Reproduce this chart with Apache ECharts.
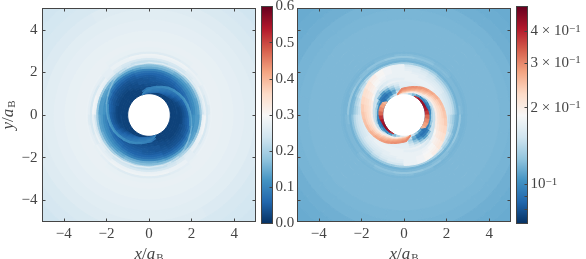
<!DOCTYPE html>
<html><head><meta charset="utf-8">
<style>html,body{margin:0;padding:0;background:#fff}#c{width:586px;height:259px;filter:blur(.45px)}</style>
<script src="https://cdn.jsdelivr.net/npm/echarts@6/dist/echarts.min.js"></script>
</head><body><div id="c"></div>
<script>
// Everything here. The field repeats every half turn.
// Base field: polar cells, columns 0-10deg ... 170-180deg.
const radiusEdges=[1,1.1,1.2,1.3,1.4,1.5,1.6,1.7,1.8,1.9,2,2.1,2.2,2.3,2.4,2.5,2.6,2.7,2.8,2.9,3,3.2,3.5,4,4.5,5,5.5,6,6.5,7.2];
const angleStep=10;
const leftRows=[
[.018,.018,.018,.018,.018,.018,.018,.018,.018,.018,.018,.018,.018,.018,.018,.018,.018,.018],
[.02,.02,.02,.02,.02,.02,.02,.02,.02,.02,.02,.02,.02,.02,.02,.02,.02,.02],
[.02,.02,.02,.02,.02,.02,.025,.025,.025,.025,.025,.02,.02,.02,.02,.02,.02,.02],
[.025,.025,.025,.025,.025,.025,.03,.03,.03,.03,.03,.025,.02,.02,.02,.02,.02,.02],
[.03,.03,.03,.03,.03,.03,.035,.035,.035,.035,.03,.03,.025,.02,.02,.02,.02,.025],
[.035,.035,.035,.035,.04,.04,.04,.04,.04,.04,.04,.03,.03,.025,.025,.025,.03,.03],
[.04,.04,.04,.04,.045,.045,.045,.045,.045,.04,.04,.035,.03,.03,.03,.03,.035,.04],
[.05,.05,.05,.05,.05,.05,.05,.05,.045,.045,.04,.04,.035,.035,.035,.04,.04,.045],
[.07,.07,.065,.06,.06,.055,.055,.055,.05,.05,.05,.045,.04,.04,.04,.045,.05,.055],
[.085,.08,.075,.07,.07,.065,.06,.06,.06,.06,.06,.05,.05,.05,.05,.055,.065,.08],
[.10,.10,.10,.095,.09,.085,.08,.075,.075,.075,.075,.065,.065,.065,.07,.085,.10,.11],
[.11,.11,.11,.11,.11,.105,.10,.10,.10,.10,.10,.09,.085,.085,.095,.11,.115,.12],
[.13,.13,.13,.13,.13,.14,.15,.15,.15,.15,.14,.13,.13,.13,.13,.13,.13,.13],
[.14,.14,.15,.15,.16,.16,.17,.17,.17,.17,.17,.17,.17,.16,.15,.14,.13,.13],
[.19,.19,.19,.20,.20,.21,.21,.21,.21,.21,.21,.21,.21,.21,.20,.19,.18,.18],
[.24,.24,.24,.24,.24,.24,.24,.23,.23,.23,.23,.24,.25,.26,.27,.28,.28,.28],
[.28,.28,.28,.27,.26,.25,.25,.25,.25,.25,.25,.25,.26,.27,.28,.28,.29,.29],
[.25,.25,.26,.27,.27,.28,.28,.28,.28,.28,.28,.28,.28,.27,.26,.25,.25,.25],
[.26,.27,.27,.28,.28,.285,.285,.285,.285,.285,.285,.28,.28,.27,.27,.27,.27,.27],
[.28,.28,.28,.275,.27,.265,.26,.26,.26,.26,.26,.265,.27,.275,.28,.28,.28,.28],
[.278,.278,.278,.278,.278,.275,.275,.275,.275,.275,.275,.275,.275,.278,.278,.278,.278,.278],
[.278,.278,.278,.278,.278,.278,.278,.278,.278,.278,.278,.278,.278,.278,.278,.278,.278,.278],
[.275,.275,.275,.275,.275,.275,.275,.275,.275,.275,.275,.275,.275,.275,.275,.275,.275,.275],
[.27,.27,.27,.27,.27,.27,.27,.27,.27,.27,.27,.27,.27,.27,.27,.27,.27,.27],
[.265,.265,.265,.265,.265,.265,.265,.265,.265,.265,.265,.265,.265,.265,.265,.265,.265,.265],
[.26,.26,.26,.26,.26,.26,.26,.26,.26,.26,.26,.26,.258,.258,.258,.258,.258,.258],
[.252,.252,.252,.252,.252,.252,.252,.252,.252,.252,.252,.25,.25,.25,.25,.25,.25,.25],
[.248,.248,.248,.248,.248,.248,.248,.248,.248,.248,.245,.245,.245,.245,.245,.245,.245,.245],
[.24,.24,.24,.24,.24,.24,.24,.24,.24,.24,.24,.24,.24,.24,.24,.24,.24,.24]
];
const rightRows=[
[.095,.095,.095,.095,.10,.10,.12,.14,.16,.17,.16,.15,.13,.115,.10,.10,.10,.10],
[.095,.09,.09,.095,.10,.11,.13,.15,.16,.16,.15,.115,.10,.095,.09,.095,.095,.10],
[.10,.095,.10,.11,.12,.13,.15,.16,.16,.16,.135,.11,.095,.09,.09,.095,.10,.105],
[.14,.13,.15,.16,.165,.165,.165,.165,.165,.165,.145,.125,.105,.095,.095,.115,.13,.14],
[.16,.17,.17,.17,.17,.17,.17,.17,.17,.17,.155,.14,.12,.11,.12,.15,.16,.16],
[.17,.17,.17,.17,.17,.17,.17,.17,.17,.17,.165,.16,.145,.14,.15,.16,.17,.17],
[.175,.175,.175,.175,.175,.175,.175,.175,.175,.175,.175,.175,.17,.17,.17,.17,.17,.175],
[.175,.175,.175,.175,.175,.175,.175,.175,.175,.175,.18,.18,.18,.18,.18,.175,.175,.175],
[.17,.17,.17,.17,.175,.175,.175,.175,.175,.175,.18,.18,.185,.185,.18,.18,.175,.17],
[.17,.165,.165,.17,.17,.17,.17,.175,.175,.175,.18,.18,.18,.18,.18,.17,.17,.165],
[.16,.16,.16,.165,.165,.165,.17,.17,.175,.175,.18,.18,.18,.18,.175,.17,.165,.16],
[.155,.155,.155,.16,.16,.16,.165,.165,.17,.17,.175,.18,.18,.175,.17,.16,.155,.15],
[.15,.15,.15,.15,.15,.155,.16,.165,.165,.17,.17,.175,.175,.165,.16,.155,.145,.14],
[.14,.14,.14,.14,.14,.145,.15,.155,.155,.16,.16,.165,.165,.155,.145,.14,.135,.13],
[.125,.125,.125,.125,.125,.13,.13,.13,.135,.135,.135,.135,.135,.135,.13,.125,.12,.12],
[.117,.117,.117,.117,.117,.117,.117,.117,.117,.117,.117,.117,.117,.117,.117,.117,.117,.117],
[.123,.12,.12,.12,.12,.12,.12,.12,.12,.12,.12,.12,.122,.123,.125,.128,.128,.128],
[.12,.12,.12,.12,.122,.122,.125,.125,.128,.128,.128,.125,.125,.122,.12,.12,.118,.118],
[.118,.118,.118,.118,.12,.12,.122,.122,.122,.122,.12,.12,.118,.118,.118,.118,.118,.118],
[.119,.119,.119,.119,.119,.119,.119,.119,.119,.119,.119,.119,.119,.119,.119,.119,.119,.119],
[.12,.12,.12,.12,.12,.12,.12,.12,.12,.12,.12,.12,.12,.12,.12,.12,.12,.12],
[.12,.12,.12,.12,.12,.12,.12,.12,.12,.12,.12,.12,.12,.12,.12,.12,.12,.12],
[.12,.12,.12,.12,.12,.12,.12,.12,.12,.12,.12,.12,.12,.12,.12,.12,.12,.12],
[.12,.12,.12,.12,.12,.12,.12,.12,.12,.12,.12,.12,.12,.12,.12,.12,.12,.12],
[.119,.119,.119,.119,.119,.119,.119,.119,.119,.119,.119,.119,.119,.119,.119,.119,.119,.119],
[.118,.118,.118,.118,.118,.118,.118,.118,.118,.118,.118,.118,.118,.118,.118,.118,.118,.118],
[.116,.116,.116,.116,.116,.116,.116,.116,.116,.116,.116,.116,.116,.116,.116,.116,.116,.116],
[.115,.115,.115,.115,.115,.115,.115,.115,.115,.115,.115,.115,.115,.115,.115,.115,.115,.115],
[.114,.114,.114,.114,.114,.114,.114,.114,.114,.114,.114,.114,.114,.114,.114,.114,.114,.114]
];
// Spiral arm: nodes along the arm, its inner and outer edge, and the values in six layers from inner to outer.
const armAngles=[107,95,85,75,65,55,45,35,25,15,5,-5,-15,-25,-35,-45,-55,-65,-75,-90];
const armOuter=[1.02,1.25,1.3,1.38,1.47,1.58,1.66,1.74,1.82,1.88,1.94,2.0,2.07,2.14,2.22,2.3,2.35,2.38,2.38,2.36];
const armInner=[1.0,1.03,1.05,1.1,1.15,1.18,1.22,1.28,1.33,1.36,1.38,1.4,1.42,1.48,1.55,1.62,1.68,1.7,1.7,1.65];
const rightArmLayers=[
[.22,.22,.21,.2,.19,.17,.16,.15,.15,.15,.15,.15,.15,.15,.15,.16,.165,.17,.17],
[.27,.25,.24,.23,.22,.21,.2,.2,.2,.2,.2,.2,.2,.19,.18,.175,.175,.175,.175],
[.28,.27,.265,.26,.25,.24,.225,.215,.215,.215,.215,.215,.21,.205,.195,.185,.18,.175,.175],
[.29,.28,.28,.275,.265,.255,.245,.235,.23,.225,.225,.225,.22,.21,.2,.19,.185,.18,.175],
[.3,.29,.285,.285,.28,.27,.26,.25,.24,.235,.235,.23,.225,.215,.205,.195,.19,.18,.175],
[.3,.3,.295,.295,.29,.285,.275,.265,.255,.25,.245,.24,.23,.22,.21,.2,.19,.18,.175]
];
const leftArmLayers=[
[.07,.07,.07,.07,.06,.05,.04,.03,.025,.02,.02,.02],
[.08,.08,.08,.08,.07,.06,.05,.04,.03,.025,.025,.025],
[.09,.09,.085,.085,.08,.07,.06,.05,.04,.035,.035,.04],
[.095,.095,.09,.09,.085,.08,.07,.06,.05,.045,.045,.05],
[.10,.10,.095,.095,.09,.085,.08,.07,.06,.055,.055,.06],
[.10,.105,.105,.11,.11,.11,.115,.115,.115,.115,.115,.115]
];
// Thin light ridge along the arm's outer edge in the left panel.
const ridgeAngles=[105,95,85,75,65,55,45,35,25,15,5,-5,-15,-25,-35,-45,-55,-65,-75,-90,-105,-120,-135,-150,-165,-180];
const ridgeRadius=[1.15,1.25,1.3,1.38,1.47,1.58,1.66,1.74,1.82,1.88,1.94,2.0,2.07,2.14,2.22,2.32,2.4,2.44,2.46,2.47,2.48,2.5,2.53,2.56,2.6,2.63];
const ridgeValues=[.08,.09,.095,.10,.105,.11,.115,.12,.125,.13,.135,.14,.15,.16,.17,.19,.22,.24,.25,.26,.26,.26,.26,.26,.27];
// Thin crescent hugging the hole in the right panel.
const crescentAngles=[62,50,40,30,20,10,0,-10,-20,-30,-38];
const crescentOuter=[1.0,1.05,1.07,1.08,1.09,1.14,1.17,1.19,1.19,1.16,1.0];
const crescentValues=[.38,.42,.44,.44,.42,.38,.33,.3,.28,.26];

const axisTicks=[-4,-2,0,2,4];
const leftBarTicks=[0,.1,.2,.3,.4,.5,.6];
const rightBarLabelled=[.1,.2,.3,.4];
const rightBarLabels=['10','2 × 10','3 × 10','4 × 10'];
const rightBarMinor=[.08,.09,.5];
const leftRange=[0,.6];
const rightRange=[.07,.5];
const RdBu=['#053061','#2166ac','#4393c3','#92c5de','#d1e5f0','#f7f7f7','#fddbc7','#f4a582','#d6604d','#b2182b','#67001f'];

const INK='#444', FONT='"Liberation Serif",serif', FS=15;
const lg=Math.log10, same=v=>v;

function cells(rows,toColor){
  const out=[];
  rows.forEach((row,i)=>{
    for(const turn of [0,180]) row.forEach((v,j)=>{
      const a0=turn+j*angleStep,a1=turn+(j+1)*angleStep,r0=radiusEdges[i],r1=radiusEdges[i+1];
      out.push([a0,a1,r0,r0,r1,toColor(v),r1]);
    });
  });
  return out;
}
function armCells(layers,toColor){
  const out=[],n=layers.length;
  layers.forEach((row,l)=>{
    for(const turn of [0,180]) row.forEach((v,k)=>{
      const at=(q,f)=>armInner[q]+(armOuter[q]-armInner[q])*f;
      out.push([turn+armAngles[k],turn+armAngles[k+1],at(k,l/n),at(k+1,l/n),at(k,(l+1)/n),toColor(v),at(k+1,(l+1)/n)]);
    });
  });
  return out;
}
function crescentCells(){
  const out=[];
  for(const turn of [0,180]) crescentValues.forEach((v,k)=>{
    out.push([turn+crescentAngles[k],turn+crescentAngles[k+1],1,1,crescentOuter[k],lg(v),crescentOuter[k+1]]);
  });
  return out;
}
function ridgeCells(){
  const out=[];
  for(const turn of [0,180]) ridgeValues.forEach((v,k)=>{
    out.push([turn+ridgeAngles[k],turn+ridgeAngles[k+1],ridgeRadius[k],ridgeRadius[k+1],0,v]);
  });
  return out;
}
const polar=(api,r,a)=>api.coord([r*Math.cos(a*Math.PI/180),r*Math.sin(a*Math.PI/180)]);
function renderCell(params,api){
  const a0=api.value(0),a1=api.value(1),i0=api.value(2),i1=api.value(3),o0=api.value(4),o1=api.value(6);
  const pts=[];const n=4;
  for(let k=0;k<=n;k++){pts.push(polar(api,o0+(o1-o0)*k/n,a0+(a1-a0)*k/n));}
  for(let k=n;k>=0;k--){pts.push(polar(api,i0+(i1-i0)*k/n,a0+(a1-a0)*k/n));}
  const c=api.visual('color');
  return {type:'polygon',shape:{points:pts},style:{fill:c,stroke:c,lineWidth:1}};
}
function renderRidge(params,api){
  return {type:'polyline',shape:{points:[polar(api,api.value(2),api.value(0)),polar(api,api.value(3),api.value(1))]},
    style:{fill:null,stroke:api.visual('color'),lineWidth:1.5,lineCap:'round'}};
}
function renderBar(params,api){
  const p0=api.coord([0,api.value(2)]),p1=api.coord([1,api.value(1)]);
  return {type:'rect',shape:{x:p0[0],y:p0[1],width:p1[0]-p0[0],height:p1[1]-p0[1]+.5},style:{fill:api.visual('color')}};
}
function ramp(lo,hi){
  const out=[],n=217;
  for(let i=0;i<n;i++){const a=lo+(hi-lo)*i/n,b=lo+(hi-lo)*(i+1)/n;out.push([.5,a,b,0,0,(a+b)/2]);}
  return out;
}
const line={show:true,onZero:false,lineStyle:{color:INK,width:1}};
const tick=(vals)=>({show:true,inside:true,length:3,customValues:vals,lineStyle:{color:INK,width:1}});
const plainLabel={show:false};
const labelStyle={color:INK,fontFamily:FONT,fontSize:FS};
const nameRich={i:{fontFamily:FONT,fontStyle:'italic',fontSize:17,color:INK},n:{fontFamily:FONT,fontSize:17,color:INK},s:{fontFamily:FONT,fontSize:11,color:INK,verticalAlign:'bottom',padding:[5,0,0,1]}};
const fmt=v=>v<0?'\u2212'+(-v):String(v);

function panelX(g){return [
 {type:'value',gridIndex:g,position:'bottom',min:-5,max:5,z:5,axisLine:line,axisTick:tick(axisTicks),splitLine:{show:false},
  axisLabel:{...labelStyle,margin:5,customValues:axisTicks,formatter:fmt},
  name:'{i|x}{n|/}{i|a}{s|B}',nameLocation:'middle',nameGap:20,nameTextStyle:{rich:nameRich}},
 {type:'value',gridIndex:g,position:'top',min:-5,max:5,z:5,axisLine:line,axisTick:tick(axisTicks),splitLine:{show:false},axisLabel:plainLabel}
];}
function panelY(g,labelled){return [
 {type:'value',gridIndex:g,position:'left',min:-5,max:5,z:5,axisLine:line,axisTick:tick(axisTicks),splitLine:{show:false},
  axisLabel:labelled?{...labelStyle,margin:5,customValues:axisTicks,formatter:fmt}:plainLabel,
  ...(labelled?{name:'{i|y}{n|/}{i|a}{s|B}',nameLocation:'middle',nameGap:25,nameTextStyle:{rich:nameRich}}:{})},
 {type:'value',gridIndex:g,position:'right',min:-5,max:5,z:5,axisLine:line,axisTick:tick(axisTicks),splitLine:{show:false},axisLabel:plainLabel}
];}
function barX(g){return [
 {type:'value',gridIndex:g,position:'bottom',min:0,max:1,z:5,axisLine:line,axisTick:{show:false},splitLine:{show:false},axisLabel:plainLabel},
 {type:'value',gridIndex:g,position:'top',min:0,max:1,z:5,axisLine:line,axisTick:{show:false},splitLine:{show:false},axisLabel:plainLabel}
];}
const leftBarY=[
 {type:'value',gridIndex:2,position:'left',min:leftRange[0],max:leftRange[1],z:5,axisLine:line,axisTick:{show:false},splitLine:{show:false},axisLabel:plainLabel},
 {type:'value',gridIndex:2,position:'right',min:leftRange[0],max:leftRange[1],z:5,axisLine:line,axisTick:tick(leftBarTicks),splitLine:{show:false},
  axisLabel:{...labelStyle,margin:3,customValues:leftBarTicks,formatter:v=>v.toFixed(1)}}
];
const rightBarTickLabel=v=>{
  let best=0;
  rightBarLabelled.forEach((t,i)=>{if(Math.abs(lg(t)-v)<Math.abs(lg(rightBarLabelled[best])-v))best=i;});
  return '{n|'+rightBarLabels[best]+'}{e|\u22121}';
};
const rightBarY=[
 {type:'value',gridIndex:3,position:'left',min:lg(rightRange[0]),max:lg(rightRange[1]),z:5,axisLine:line,axisTick:{show:false},splitLine:{show:false},axisLabel:plainLabel},
 {type:'value',gridIndex:3,position:'right',min:lg(rightRange[0]),max:lg(rightRange[1]),z:5,axisLine:line,
  axisTick:tick(rightBarLabelled.concat(rightBarMinor).map(lg)),splitLine:{show:false},
  axisLabel:{...labelStyle,margin:3,customValues:rightBarLabelled.map(lg),
   formatter:rightBarTickLabel,
   rich:{n:{fontFamily:FONT,fontSize:FS,color:INK},e:{fontFamily:FONT,fontSize:11,color:INK,verticalAlign:'top',padding:[0,0,5,0]}}}}
];
const field=(x,y,render,data,z)=>({type:'custom',xAxisIndex:x,yAxisIndex:y,clip:true,silent:true,z:z,renderItem:render,data:data});

const option={
 animation:false,
 backgroundColor:'#fff',
 grid:[
  {left:42.5,top:8.5,width:213,height:213,outerBoundsMode:'none'},
  {left:297.5,top:8.5,width:213,height:213,outerBoundsMode:'none'},
  {left:261.5,top:6.5,width:11,height:217,outerBoundsMode:'none'},
  {left:516.5,top:6.5,width:11,height:217,outerBoundsMode:'none'}
 ],
 xAxis:[...panelX(0),...panelX(1),...barX(2),...barX(3)],
 yAxis:[...panelY(0,true),...panelY(1,false),...leftBarY,...rightBarY],
 visualMap:[
  {show:false,type:'continuous',seriesIndex:[0,1,2,6],dimension:5,min:leftRange[0],max:leftRange[1],inRange:{color:RdBu}},
  {show:false,type:'continuous',seriesIndex:[3,4,5,7],dimension:5,min:lg(rightRange[0]),max:lg(rightRange[1]),inRange:{color:RdBu}}
 ],
 series:[
  field(0,0,renderCell,cells(leftRows,same),2),
  field(0,0,renderCell,armCells(leftArmLayers,same),3),
  field(0,0,renderRidge,ridgeCells(),4),
  field(2,2,renderCell,cells(rightRows,lg),2),
  field(2,2,renderCell,armCells(rightArmLayers,lg),3),
  field(2,2,renderCell,crescentCells(),4),
  field(4,4,renderBar,ramp(leftRange[0],leftRange[1]),2),
  field(6,6,renderBar,ramp(lg(rightRange[0]),lg(rightRange[1])),2)
 ]
};
const chart=echarts.init(document.getElementById('c'),null,{renderer:'canvas',width:586,height:259});
chart.setOption(option);
</script></body></html>
